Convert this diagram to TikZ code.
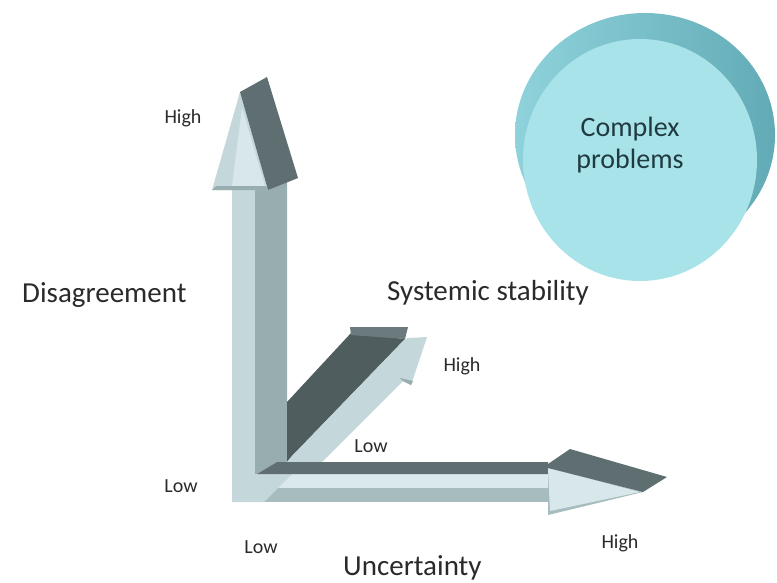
\documentclass[tikz,border=0pt]{standalone}
\usepackage{fontspec}
\setmainfont{Carlito}
\definecolor{vlight}{HTML}{C4D7DA}
\definecolor{hlight}{HTML}{D8E8EA}
\definecolor{vmid}{HTML}{98ADB0}
\definecolor{vdark}{HTML}{5F6E70}
\definecolor{ddark}{HTML}{4F5D5F}
\definecolor{ddark2}{HTML}{6B7B7D}
\definecolor{hpale}{HTML}{DAEAEC}
\definecolor{hmid}{HTML}{A6BCBF}
\definecolor{outerL}{HTML}{8FD2DB}
\definecolor{outerR}{HTML}{62ABB6}
\definecolor{innerc}{HTML}{A9E3EA}
\definecolor{txt}{HTML}{2A2A2A}
\definecolor{cptxt}{HTML}{1F3B41}
\begin{document}
\begin{tikzpicture}[x=1pt,y=-1pt,
  axislabel/.style={text=txt,font=\fontsize{29}{31}\selectfont,inner sep=0pt},
  ticklabel/.style={text=txt,font=\fontsize{20}{22}\selectfont,inner sep=0pt}]
\useasboundingbox (0,0) rectangle (777,582);
% circles
\shade[left color=outerL,right color=outerR] (645,135) ellipse [x radius=130pt, y radius=122pt];
\fill[innerc] (640,160) ellipse [x radius=117pt, y radius=121pt];
\node[text=cptxt,align=center,font=\fontsize{28}{32}\selectfont] (cp) at (630,145) {Complex\\problems};
% vertical arrow
\fill[vlight] (232,190) -- (255,190) -- (255,474) -- (253,502) -- (232,502) -- cycle;
\fill[vmid] (255,190) -- (268,190) -- (287,182) -- (287,462) -- (277,462) -- (257,474) -- (255,474) -- cycle;
\fill[vlight] (240,92) -- (268,190) -- (212,190) -- cycle;
\fill[hlight] (242,108) -- (265,186) -- (232,186) -- cycle;
\fill[vmid] (212,190) -- (268,190) -- (266,186) -- (216,186) -- cycle;
\fill[vdark] (240,92) -- (267,77) -- (298,178) -- (268,190) -- cycle;
% diagonal arrow
\fill[ddark] (287,402) -- (351,333) -- (405,339) -- (292,456) -- (287,462) -- cycle;
\fill[ddark2] (350,327) -- (408,327) -- (405,339) -- (351,335) -- cycle;
\fill[vlight] (292,456) -- (405,339) -- (408,338) -- (427,337) -- (411,385) -- (403,381) -- (322,462) -- (287,462) -- cycle;
\fill[vmid] (400,378) -- (413,381) -- (411,385) -- (403,381) -- cycle;
% horizontal arrow
\fill[hpale] (253,474) -- (548,474) -- (548,488) -- (253,488) -- cycle;
\fill[hmid] (253,488) -- (567,488) -- (567,502) -- (253,502) -- cycle;
\fill[vlight] (253,474) -- (292,474) -- (264,502) -- (253,502) -- cycle;
\fill[vdark] (257,474) -- (277,462) -- (548,462) -- (548,474) -- cycle;
\fill[hmid] (548,468) -- (643,492) -- (548,515) -- cycle;
\fill[hlight] (548,468) -- (640,492) -- (550,511) -- cycle;
\fill[vdark] (548,464) -- (570,449) -- (667,477) -- (643,492) -- (548,468) -- cycle;
% labels
\node[ticklabel] (vhigh) at (183,118) {High};
\node[axislabel,anchor=base west] (dis) at (22,302) {Disagreement};
\node[axislabel,anchor=base west] (sys) at (387,300) {Systemic stability};
\node[ticklabel] (dhigh) at (462,366) {High};
\node[ticklabel] (dlow) at (371,446) {Low};
\node[ticklabel] (vlow) at (181,486) {Low};
\node[ticklabel] (hlow) at (261,547) {Low};
\node[ticklabel] (hhigh) at (620,543) {High};
\node[axislabel,anchor=base west] (unc) at (343,575) {Uncertainty};
\end{tikzpicture}
\end{document}
